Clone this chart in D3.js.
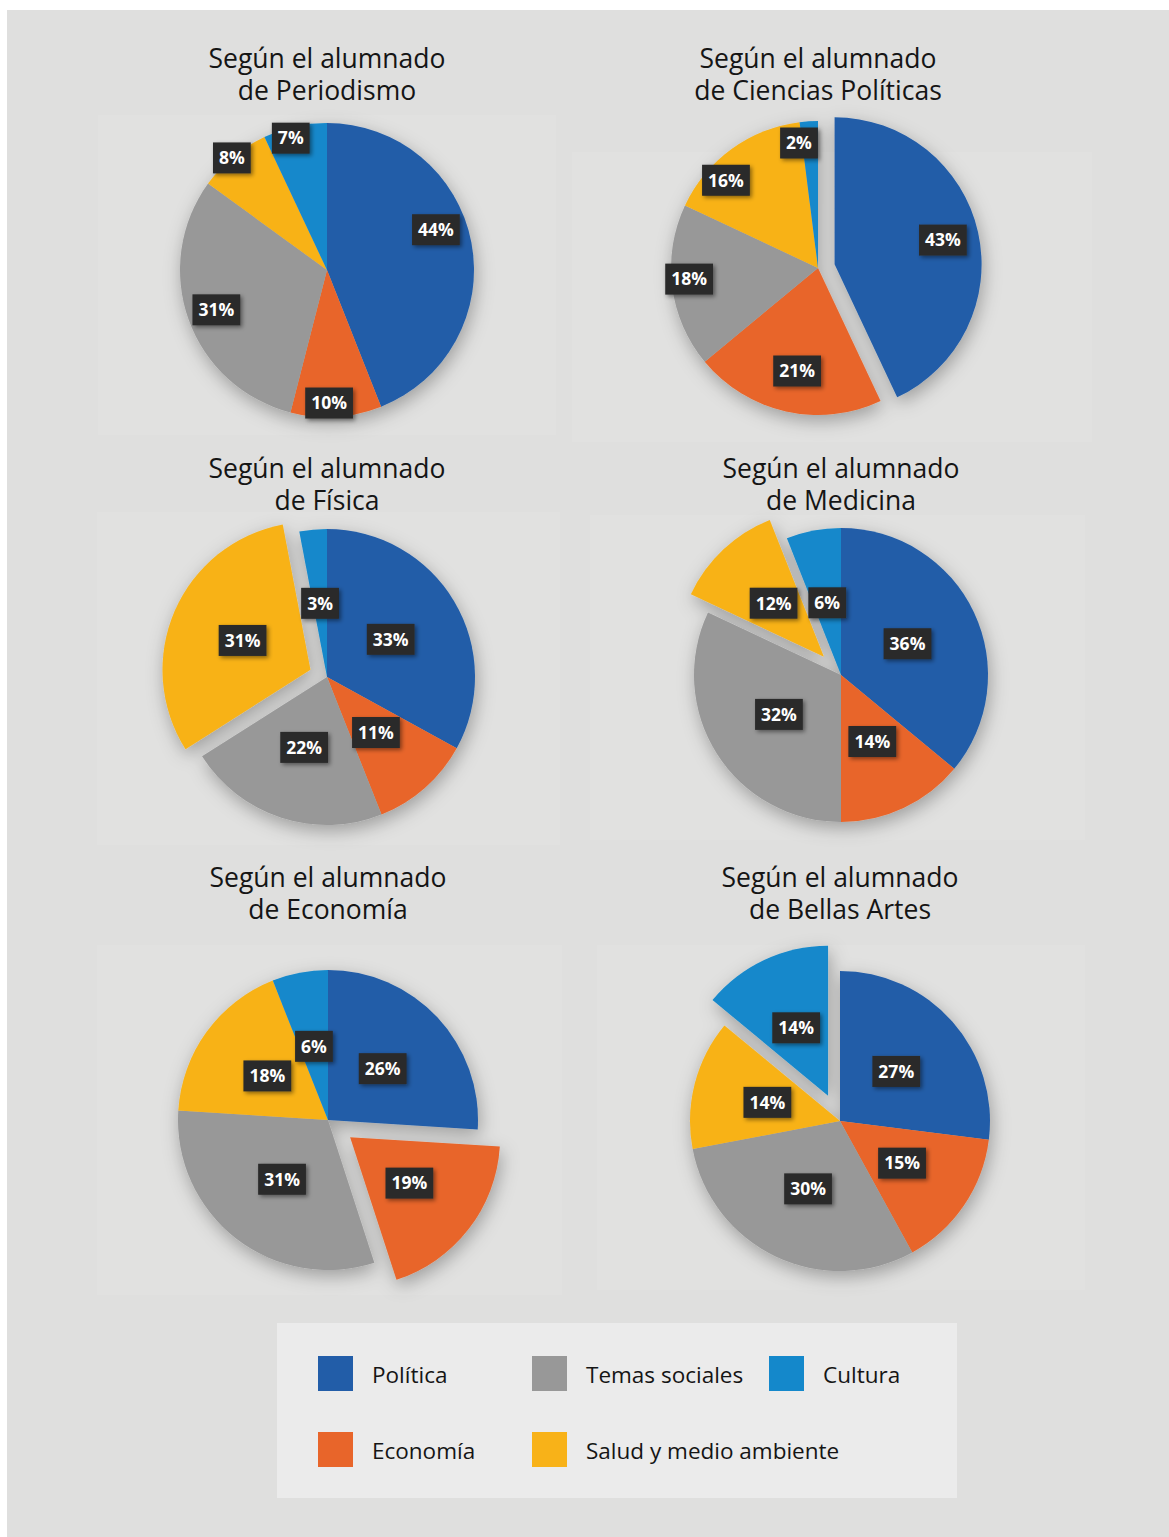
<!DOCTYPE html>
<html lang="es">
<head>
<meta charset="utf-8">
<script src="https://cdn.jsdelivr.net/npm/d3@7"></script>
<style>
  html, body { margin: 0; padding: 0; background: #ffffff; }
  svg { display: block; }
  text { font-family: "Open Sans", "Noto Sans", sans-serif; }
</style>
</head>
<body>
<svg id="chart" width="1169" height="1537"></svg>
<script>
// ---- data ----
const categories = ["Política", "Economía", "Temas sociales", "Salud y medio ambiente", "Cultura"];
const categoryColors = ["#225da8", "#e8652a", "#989898", "#f8b218", "#1488cb"];

const titleLine1 = "Según el alumnado";
const degrees = ["de Periodismo", "de Ciencias Políticas", "de Física", "de Medicina", "de Economía", "de Bellas Artes"];

// percentages, in category order
const periodismo = [44, 10, 31, 8, 7];
const cienciasPoliticas = [43, 21, 18, 16, 2];
const fisica = [33, 11, 22, 31, 3];
const medicina = [36, 14, 32, 12, 6];
const economia = [26, 19, 31, 18, 6];
const bellasArtes = [27, 15, 30, 14, 14];

const seriesByDegree = [periodismo, cienciasPoliticas, fisica, medicina, economia, bellasArtes];

// ---- layout ----
const panels = [
  { cx: 327, cy: 270,  r: 147, titleY: 68,  explode: null },
  { cx: 818, cy: 268,  r: 147, titleY: 68,  explode: { slice: 0, dist: 17 } },
  { cx: 327, cy: 677,  r: 148, titleY: 478, explode: { slice: 3, dist: 18 } },
  { cx: 841, cy: 675,  r: 147, titleY: 478, explode: { slice: 3, dist: 25 } },
  { cx: 328, cy: 1120, r: 150, titleY: 887, explode: { slice: 1, dist: 28 } },
  { cx: 840, cy: 1121, r: 150, titleY: 887, explode: { slice: 4, dist: 28 } }
];
// label placement per slice: [fraction across the slice's angle, fraction of radius]
const centroidPlacement = [[0.5, 0.5], [0.5, 0.5], [0.5, 0.5], [0.5, 0.5], [0.5, 0.5]];
const labelPlacement = [
  [[0.44, 0.79], [0.575, 0.905], [0.5, 0.80], [0.475, 1.0], [0.39, 0.93]],
  [[0.5, 0.755], [0.485, 0.715], [0.535, 0.88], [0.32, 0.865], [-0.2, 0.86]],
  centroidPlacement, centroidPlacement, centroidPlacement, centroidPlacement
];
// faint chart-area panels behind each pie
const plotAreas = [
  [98, 115, 458, 320], [572, 152, 520, 290],
  [97, 512, 463, 333], [590, 515, 495, 325],
  [97, 945, 465, 350], [597, 945, 488, 345]
];

const svg = d3.select("#chart");

// page background
svg.append("rect").attr("x", 7).attr("y", 10).attr("width", 1162).attr("height", 1527).attr("fill", "#dfdfde");

const defs = svg.append("defs");
const pieShadow = defs.append("filter").attr("id", "pieShadow")
  .attr("x", "-30%").attr("y", "-30%").attr("width", "160%").attr("height", "160%");
pieShadow.append("feGaussianBlur").attr("in", "SourceAlpha").attr("stdDeviation", 9).attr("result", "blur");
pieShadow.append("feOffset").attr("in", "blur").attr("dx", 2).attr("dy", 6).attr("result", "off");
pieShadow.append("feFlood").attr("flood-color", "#000").attr("flood-opacity", 0.3).attr("result", "col");
pieShadow.append("feComposite").attr("in", "col").attr("in2", "off").attr("operator", "in").attr("result", "shadow");
const m1 = pieShadow.append("feMerge");
m1.append("feMergeNode").attr("in", "shadow");
m1.append("feMergeNode").attr("in", "SourceGraphic");

const boxShadow = defs.append("filter").attr("id", "boxShadow")
  .attr("x", "-30%").attr("y", "-30%").attr("width", "170%").attr("height", "180%");
boxShadow.append("feGaussianBlur").attr("in", "SourceAlpha").attr("stdDeviation", 2).attr("result", "blur");
boxShadow.append("feOffset").attr("in", "blur").attr("dx", 2).attr("dy", 2).attr("result", "off");
boxShadow.append("feFlood").attr("flood-color", "#000").attr("flood-opacity", 0.45).attr("result", "col");
boxShadow.append("feComposite").attr("in", "col").attr("in2", "off").attr("operator", "in").attr("result", "shadow");
const m2 = boxShadow.append("feMerge");
m2.append("feMergeNode").attr("in", "shadow");
m2.append("feMergeNode").attr("in", "SourceGraphic");

svg.append("g").selectAll("rect").data(plotAreas).join("rect")
  .attr("x", d => d[0]).attr("y", d => d[1]).attr("width", d => d[2]).attr("height", d => d[3])
  .attr("fill", "#e1e1e0");

const color = d3.scaleOrdinal().domain(categories).range(categoryColors);
const pie = d3.pie().sort(null).value(d => d.value);

seriesByDegree.forEach((values, i) => {
  const p = panels[i];
  const data = categories.map((c, k) => ({ category: c, value: values[k] }));
  const arcs = pie(data);
  const arc = d3.arc().innerRadius(0).outerRadius(p.r);

  // two-line title
  [titleLine1, degrees[i]].forEach((line, li) => {
    svg.append("text")
      .attr("x", p.cx).attr("y", p.titleY + li * 32)
      .attr("text-anchor", "middle")
      .attr("font-size", 26.5).attr("fill", "#151515")
      .text(line);
  });

  const offsetOf = (d, k) => {
    if (!p.explode || p.explode.slice !== k) return [0, 0];
    const mid = (d.startAngle + d.endAngle) / 2;
    return [Math.sin(mid) * p.explode.dist, -Math.cos(mid) * p.explode.dist];
  };

  const g = svg.append("g").attr("transform", `translate(${p.cx},${p.cy})`);
  g.append("g").attr("filter", "url(#pieShadow)")
    .selectAll("path").data(arcs).join("path")
    .attr("transform", (d, k) => `translate(${offsetOf(d, k)})`)
    .attr("d", arc)
    .attr("fill", d => color(d.data.category));

  // value labels
  const lab = g.append("g").selectAll("g").data(arcs).join("g")
    .attr("transform", (d, k) => {
      const [t, rf] = labelPlacement[i][k];
      const a = d.startAngle + t * (d.endAngle - d.startAngle);
      const [ox, oy] = offsetOf(d, k);
      return `translate(${ox + Math.sin(a) * rf * p.r},${oy - Math.cos(a) * rf * p.r})`;
    });
  lab.append("rect").attr("filter", "url(#boxShadow)").attr("fill", "#2b2b2b");
  lab.append("text")
    .attr("text-anchor", "middle").attr("dy", "0.36em")
    .attr("font-size", 17.5).attr("font-weight", 700).attr("fill", "#ffffff")
    .text(d => d.data.value + "%");
  lab.each(function () {
    const t = d3.select(this).select("text");
    const w = t.node().getComputedTextLength();
    d3.select(this).select("rect")
      .attr("x", -w / 2 - 6).attr("y", -15.5).attr("width", w + 12).attr("height", 31);
  });
});

// ---- legend ----
svg.append("rect").attr("x", 277).attr("y", 1323).attr("width", 680).attr("height", 175).attr("fill", "#ebebeb");
const legendRows = [[0, 2, 4], [1, 3]];
const legendColX = [318, 532, 769];
const legendRowY = [1356, 1432];
legendRows.forEach((row, ri) => {
  row.forEach((ci, cj) => {
    const x = legendColX[cj], y = legendRowY[ri];
    svg.append("rect").attr("x", x).attr("y", y).attr("width", 35).attr("height", 35)
      .attr("fill", color(categories[ci]));
    svg.append("text").attr("x", x + 54).attr("y", y + 27)
      .attr("font-size", 22.5).attr("fill", "#151515")
      .text(categories[ci]);
  });
});
</script>
</body>
</html>
